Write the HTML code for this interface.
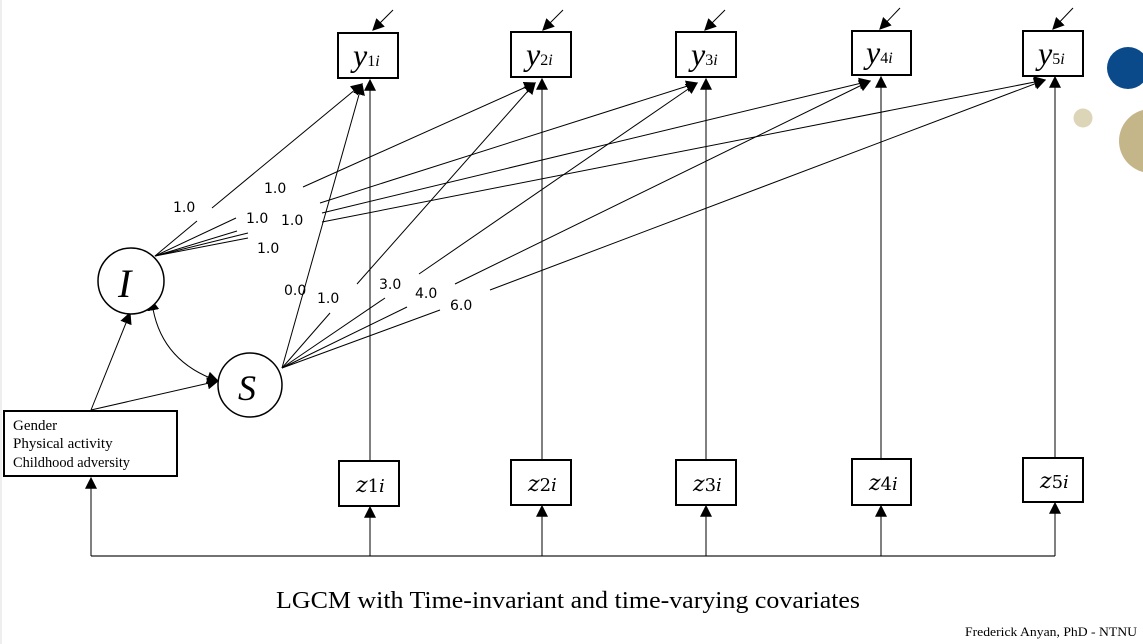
<!DOCTYPE html>
<html><head><meta charset="utf-8"><style>
html,body{margin:0;padding:0;background:#fff;}
svg{display:block;}
</style></head><body>
<svg width="1143" height="644" viewBox="0 0 1143 644" xmlns="http://www.w3.org/2000/svg">
<defs>
<marker id="a" viewBox="0 0 10 10" refX="9" refY="5" markerWidth="12" markerHeight="12" markerUnits="userSpaceOnUse" orient="auto"><path d="M0,0 L10,5 L0,10 z" fill="#000"/></marker>
<marker id="as" viewBox="0 0 10 10" refX="1" refY="5" markerWidth="12" markerHeight="12" markerUnits="userSpaceOnUse" orient="auto-start-reverse"><path d="M0,0 L10,5 L0,10 z" fill="#000"/></marker>
</defs>
<rect width="1143" height="644" fill="#fff"/>
<line x1="1" y1="0" x2="1" y2="644" stroke="#ddd" stroke-width="1"/>
<circle cx="1128" cy="68" r="21" fill="#0b4a8a"/>
<circle cx="1083" cy="118" r="9.5" fill="#ddd5b8"/>
<circle cx="1151" cy="141" r="32" fill="#c5b68a"/>

<g stroke="#000" stroke-width="1" fill="none">
<line x1="155" y1="256" x2="197" y2="221"/><line x1="212" y1="208" x2="362" y2="84" marker-end="url(#a)"/>
<line x1="155" y1="256" x2="236" y2="218"/><line x1="303" y1="187" x2="535" y2="83" marker-end="url(#a)"/>
<line x1="155" y1="256" x2="237" y2="231"/><line x1="320" y1="203" x2="697" y2="83" marker-end="url(#a)"/>
<line x1="155" y1="256" x2="248" y2="233"/><line x1="322" y1="213" x2="870" y2="81" marker-end="url(#a)"/>
<line x1="155" y1="256" x2="248" y2="238"/><line x1="322" y1="222" x2="1045" y2="80" marker-end="url(#a)"/>
<line x1="282" y1="368" x2="362" y2="84" marker-end="url(#a)"/>
<line x1="282" y1="368" x2="330" y2="313"/><line x1="357" y1="284" x2="535" y2="83" marker-end="url(#a)"/>
<line x1="282" y1="368" x2="385" y2="298"/><line x1="419" y1="274" x2="697" y2="83" marker-end="url(#a)"/>
<line x1="282" y1="368" x2="407" y2="307"/><line x1="455" y1="284" x2="870" y2="81" marker-end="url(#a)"/>
<line x1="282" y1="368" x2="440" y2="310"/><line x1="490" y1="290" x2="1045" y2="80" marker-end="url(#a)"/>
<line x1="370" y1="461" x2="370" y2="80" marker-end="url(#a)"/>
<line x1="542" y1="460" x2="542" y2="79" marker-end="url(#a)"/>
<line x1="706" y1="460" x2="706" y2="79" marker-end="url(#a)"/>
<line x1="881" y1="459" x2="881" y2="77" marker-end="url(#a)"/>
<line x1="1055" y1="458" x2="1055" y2="77" marker-end="url(#a)"/>
<line x1="393" y1="10" x2="373" y2="30" marker-end="url(#a)"/>
<line x1="563" y1="10" x2="543" y2="30" marker-end="url(#a)"/>
<line x1="725" y1="10" x2="705" y2="30" marker-end="url(#a)"/>
<line x1="900" y1="8" x2="880" y2="29" marker-end="url(#a)"/>
<line x1="1073" y1="8" x2="1053" y2="29" marker-end="url(#a)"/>
<line x1="91" y1="556" x2="1055" y2="556" stroke="#444" stroke-width="1.5"/>
<line x1="91" y1="556" x2="91" y2="478" marker-end="url(#a)"/>
<line x1="370" y1="556" x2="370" y2="507" marker-end="url(#a)"/>
<line x1="542" y1="556" x2="542" y2="506" marker-end="url(#a)"/>
<line x1="706" y1="556" x2="706" y2="506" marker-end="url(#a)"/>
<line x1="881" y1="556" x2="881" y2="506" marker-end="url(#a)"/>
<line x1="1055" y1="556" x2="1055" y2="503" marker-end="url(#a)"/>
<line x1="91" y1="410" x2="130" y2="313" marker-end="url(#a)"/>
<line x1="91" y1="410" x2="218" y2="381" marker-end="url(#a)"/>
<path d="M153,309 Q163,362 218,381" marker-start="url(#as)" marker-end="url(#a)"/>
</g>

<g stroke="#000" stroke-width="2" fill="#fff">
<rect x="338" y="33" width="60" height="45"/>
<rect x="511" y="32" width="60" height="45"/>
<rect x="676" y="32" width="60" height="45"/>
<rect x="852" y="31" width="59" height="44"/>
<rect x="1023" y="31" width="60" height="45"/>
<rect x="339" y="461" width="60" height="45"/>
<rect x="511" y="460" width="60" height="45"/>
<rect x="676" y="460" width="60" height="45"/>
<rect x="852" y="459" width="59" height="46"/>
<rect x="1023" y="458" width="60" height="44"/>
<rect x="4" y="411" width="173" height="65"/>
<circle cx="131" cy="281" r="33" stroke-width="1.5"/>
<circle cx="250" cy="385" r="32" stroke-width="1.5"/>
</g>

<g font-family="Liberation Serif, serif" font-style="italic" fill="#000">
<text x="353" y="66" font-size="32">y<tspan font-size="16" font-style="normal">1</tspan><tspan font-size="16">i</tspan></text>
<text x="526" y="65" font-size="32">y<tspan font-size="16" font-style="normal">2</tspan><tspan font-size="16">i</tspan></text>
<text x="691" y="65" font-size="32">y<tspan font-size="16" font-style="normal">3</tspan><tspan font-size="16">i</tspan></text>
<text x="866" y="63" font-size="32">y<tspan font-size="16" font-style="normal">4</tspan><tspan font-size="16">i</tspan></text>
<text x="1038" y="64" font-size="32">y<tspan font-size="16" font-style="normal">5</tspan><tspan font-size="16">i</tspan></text>
<text x="118" y="297" font-size="40">I</text>
<text x="238" y="400" font-size="36">S</text>
</g>
<g font-family="DejaVu Serif, serif" font-style="italic" fill="#000" font-size="22">
<text x="356" y="492">z<tspan font-size="18" font-style="normal">1</tspan><tspan font-size="18">i</tspan></text>
<text x="528" y="491">z<tspan font-size="18" font-style="normal">2</tspan><tspan font-size="18">i</tspan></text>
<text x="693" y="491">z<tspan font-size="18" font-style="normal">3</tspan><tspan font-size="18">i</tspan></text>
<text x="869" y="490">z<tspan font-size="18" font-style="normal">4</tspan><tspan font-size="18">i</tspan></text>
<text x="1040" y="488">z<tspan font-size="18" font-style="normal">5</tspan><tspan font-size="18">i</tspan></text>
</g>

<g font-family="DejaVu Sans, sans-serif" font-size="14" fill="#000">
<text x="173" y="212">1.0</text>
<text x="264" y="193">1.0</text>
<text x="246" y="223">1.0</text>
<text x="281" y="225">1.0</text>
<text x="257" y="253">1.0</text>
<text x="284" y="295">0.0</text>
<text x="317" y="303">1.0</text>
<text x="379" y="289">3.0</text>
<text x="415" y="298">4.0</text>
<text x="450" y="310">6.0</text>
</g>

<g font-family="Liberation Serif, serif" font-size="15" fill="#000">
<text x="13" y="430">Gender</text>
<text x="13" y="448">Physical activity</text>
<text x="13" y="467" textLength="117" lengthAdjust="spacingAndGlyphs">Childhood adversity</text>
</g>
<text x="276" y="608" textLength="584" lengthAdjust="spacingAndGlyphs" font-family="Liberation Serif, serif" font-size="24" fill="#000">LGCM with Time-invariant and time-varying covariates</text>
<text x="965" y="636" textLength="172" lengthAdjust="spacingAndGlyphs" font-family="Liberation Serif, serif" font-size="13" fill="#000">Frederick Anyan, PhD - NTNU</text>
</svg>
</body></html>
